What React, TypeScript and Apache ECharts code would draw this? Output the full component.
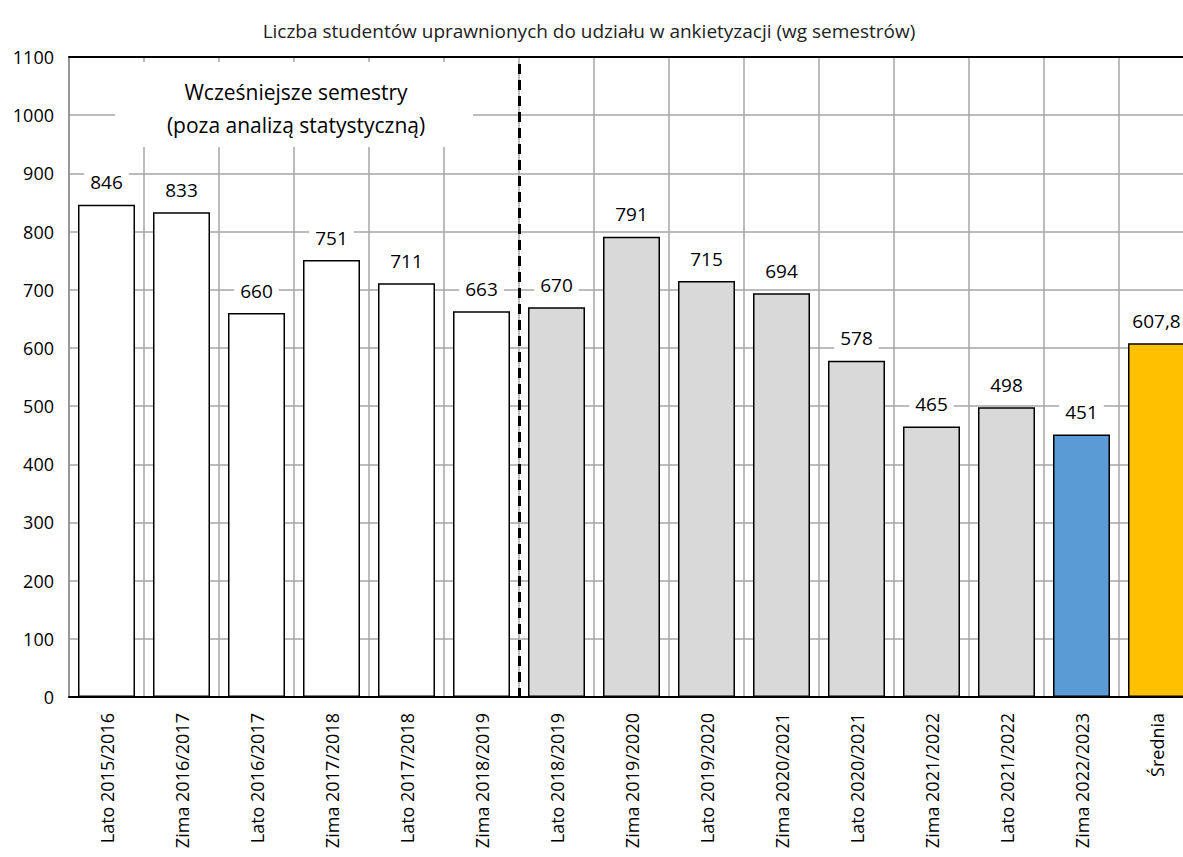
import React, { useEffect, useRef } from "react";
import * as echarts from "echarts";

const categories = [
  "Lato 2015/2016", "Zima 2016/2017", "Lato 2016/2017", "Zima 2017/2018", "Lato 2017/2018",
  "Zima 2018/2019", "Lato 2018/2019", "Zima 2019/2020", "Lato 2019/2020", "Zima 2020/2021",
  "Lato 2020/2021", "Zima 2021/2022", "Lato 2021/2022", "Zima 2022/2023", "Średnia",
];
const values = [846, 833, 660, 751, 711, 663, 670, 791, 715, 694, 578, 465, 498, 451, 607.8];
const groups = ["old", "old", "old", "old", "old", "old", "new", "new", "new", "new", "new", "new", "new", "current", "avg"];
const groupColors: Record<string, string> = { old: "#FFFFFF", new: "#D9D9D9", current: "#5B9BD5", avg: "#FFC000" };
const yTicks = { min: 0, max: 1100, interval: 100 };
const splitIndex = 6;
const titleText = "Liczba studentów uprawnionych do udziału w ankietyzacji (wg semestrów)";
const noteLines = ["Wcześniejsze semestry", "(poza analizą statystyczną)"];

const FONT = "'Open Sans', 'Noto Sans', sans-serif";

export default function App() {
  const ref = useRef<HTMLDivElement>(null);
  useEffect(() => {
    if (!ref.current) return;
    const chart = echarts.init(ref.current, null, { renderer: "svg" });
    chart.setOption({
      animation: false,
      backgroundColor: "#FFFFFF",
      grid: { left: 69, right: 6, top: 57, bottom: 160, containLabel: false },
      xAxis: [
        {
          type: "category",
          data: categories,
          axisLine: { lineStyle: { color: "#000", width: 2 } },
          axisTick: { show: false },
          splitLine: { show: true, lineStyle: { color: "#A6A6A6", width: 1.5 } },
          axisLabel: {
            rotate: 90,
            interval: 0,
            margin: 16,
            fontFamily: FONT,
            fontSize: 18,
            color: "#000",
          },
        },
        {
          type: "value",
          position: "top",
          min: 0,
          max: categories.length,
          axisLine: { show: true, onZero: false, lineStyle: { color: "#000", width: 2 } },
          axisTick: { show: false },
          axisLabel: { show: false },
          splitLine: { show: false },
        },
      ],
      yAxis: {
        type: "value",
        min: yTicks.min,
        max: yTicks.max,
        interval: yTicks.interval,
        axisLine: { show: true, lineStyle: { color: "#8C8C8C", width: 1.5 } },
        axisTick: { show: false },
        splitLine: { show: true, lineStyle: { color: "#A6A6A6", width: 1.5 } },
        axisLabel: {
          margin: 15,
          fontFamily: FONT,
          fontSize: 18,
          color: "#000",
          formatter: (v: number) => String(v),
        },
      },
      series: [
        {
          type: "bar",
          xAxisIndex: 0,
          barCategoryGap: "24%",
          data: values.map((v, i) => ({
            value: v,
            itemStyle: { color: groupColors[groups[i]] },
          })),
          itemStyle: { borderColor: "#000", borderWidth: 1.5 },
          label: {
            show: true,
            position: "top",
            distance: 11,
            fontFamily: FONT,
            fontSize: 19,
            color: "#000",
            backgroundColor: "#FFFFFF",
            padding: [2, 6],
            formatter: (p: any) => String(p.value).replace(".", ","),
          },
          z: 3,
        },
        {
          type: "scatter",
          xAxisIndex: 1,
          data: [],
          silent: true,
          markLine: {
            symbol: "none",
            silent: true,
            label: { show: false },
            lineStyle: { color: "#000", width: 3, type: [10, 6] },
            data: [[{ coord: [splitIndex, 1088] }, { coord: [splitIndex, 0] }]],
          },
          z: 4,
        },
      ],
      graphic: [
        {
          type: "text",
          x: 589,
          y: 31,
          style: {
            text: titleText,
            fontFamily: FONT,
            fontSize: 19,
            fill: "#222",
            textAlign: "center",
            textVerticalAlign: "middle",
          },
        },
        {
          type: "rect",
          shape: { x: 115, y: 62, width: 358, height: 85 },
          style: { fill: "#FFFFFF" },
          z: 5,
        },
        {
          type: "text",
          x: 296,
          y: 92,
          style: {
            text: noteLines[0],
            fontFamily: FONT,
            fontSize: 21,
            fill: "#000",
            textAlign: "center",
            textVerticalAlign: "middle",
          },
          z: 6,
        },
        {
          type: "text",
          x: 296,
          y: 125,
          style: {
            text: noteLines[1],
            fontFamily: FONT,
            fontSize: 21,
            fill: "#000",
            textAlign: "center",
            textVerticalAlign: "middle",
          },
          z: 6,
        },
      ],
    });
    return () => chart.dispose();
  }, []);
  return (
    <div style={{ position: "absolute", left: 0, top: 0, width: 1183, height: 857, overflow: "hidden" }}>
      <div ref={ref} style={{ width: 1200, height: 857 }} />
    </div>
  );
}
